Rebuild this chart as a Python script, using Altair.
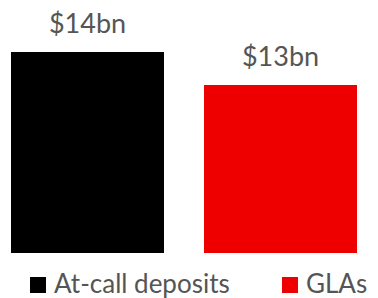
import altair as alt
import pandas as pd

categories = ["At-call deposits", "GLAs"]
values = [14, 13]
labels = ["$14bn", "$13bn"]
colors = ["#000000", "#ee0000"]

df = pd.DataFrame({"cat": categories, "value": values, "label": labels})

FONT = "Lato"
TEXT_COLOR = "#555555"

x = alt.X("cat:N", sort=categories, axis=None,
          scale=alt.Scale(range=[3, 349], paddingInner=0.2073, paddingOuter=0))
y = alt.Y("value:Q", axis=None,
          scale=alt.Scale(domain=[7.91, 15.33], range=[245, 0], zero=False, nice=False))

bars = alt.Chart(df).mark_bar().encode(
    x=x,
    y=y,
    y2=alt.datum(7.91),
    color=alt.Color("cat:N", sort=categories,
                    scale=alt.Scale(domain=categories, range=colors),
                    legend=alt.Legend(
                        title=None, orient="none", direction="horizontal",
                        legendX=17, legendY=264, padding=0,
                        symbolType="square", symbolSize=256, symbolStrokeWidth=0,
                        symbolOpacity=1,
                        labelFont=FONT, labelFontSize=26, labelColor=TEXT_COLOR,
                        labelOffset=3, columnPadding=47, labelLimit=400)),
)

text = alt.Chart(df).mark_text(
    font=FONT, fontSize=27, color=TEXT_COLOR, baseline="alphabetic", dy=-19
).encode(x=x, y=y, text="label:N")

chart = (bars + text).properties(
    width=362, height=290, padding=0, autosize="none"
).configure_view(stroke=None)

chart.save("out.html", embed_options={"renderer": "svg", "actions": False})
